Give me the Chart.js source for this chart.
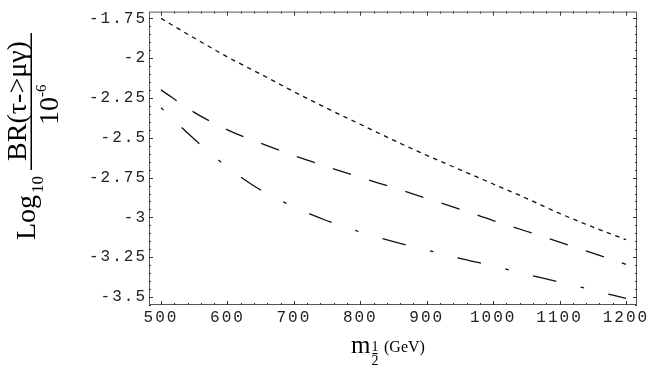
<!DOCTYPE html>
<html>
<head>
<meta charset="utf-8">
<script src="https://cdn.jsdelivr.net/npm/chart.js@4"></script>
<style>
  html, body { margin: 0; padding: 0; background: #fff; }
  canvas { display: block; }
</style>
</head>
<body>
<canvas id="brChart" width="654" height="378"></canvas>
<script>
// ─── Data ───
const massValues = [500, 550, 600, 650, 700, 750, 800, 850, 900, 950, 1000, 1050, 1100, 1150, 1200];
const brDotted   = [-1.75, -1.873, -1.992, -2.10, -2.21, -2.315, -2.415, -2.515, -2.61, -2.70, -2.79, -2.88, -2.975, -3.06, -3.14];
const brDashed   = [-2.199, -2.340, -2.450, -2.534, -2.611, -2.681, -2.749, -2.813, -2.881, -2.948, -3.020, -3.087, -3.155, -3.225, -3.295];
const brDashDot  = [-2.311, -2.508, -2.684, -2.828, -2.934, -3.021, -3.092, -3.152, -3.205, -3.257, -3.305, -3.357, -3.406, -3.457, -3.509];

const xTickValues = [500, 600, 700, 800, 900, 1000, 1100, 1200];
const xTickLabels = ['500', '600', '700', '800', '900', '1000', '1100', '1200'];
const yTickValues = [-3.5, -3.25, -3, -2.75, -2.5, -2.25, -2, -1.75];
const yTickLabels = ['-3.5', '-3.25', '-3', '-2.75', '-2.5', '-2.25', '-2', '-1.75'];

const toPoints = ys => massValues.map((m, i) => ({ x: m, y: ys[i] }));

// ─── Plugins ───
// wide Courier-like spacing for tick labels
const tickSpacing = {
    id: 'tickSpacing',
    beforeDraw(chart) { chart.ctx.letterSpacing = '2px'; }
};

// Mathematica style frame with inward major/minor ticks on all four sides
const frameTicks = {
    id: 'frameTicks',
    afterDatasetsDraw(chart) {
        const { ctx, chartArea: a, scales: { x, y } } = chart;
        ctx.save();
        ctx.strokeStyle = '#555';
        ctx.lineWidth = 1;
        ctx.strokeRect(a.left + 0.5, a.top + 0.5, a.right - a.left - 1, a.bottom - a.top - 1);

        ctx.strokeStyle = '#333';
        ctx.beginPath();
        for (let k = Math.ceil(x.min / 20); k <= Math.floor(x.max / 20); k++) {
            const px = Math.round(x.getPixelForValue(k * 20)) + 0.5;
            const len = k % 5 === 0 ? 4 : 2;
            ctx.moveTo(px, a.bottom); ctx.lineTo(px, a.bottom - len);
            ctx.moveTo(px, a.top); ctx.lineTo(px, a.top + len);
        }
        for (let k = Math.ceil(y.min / 0.05); k <= Math.floor(y.max / 0.05); k++) {
            const py = Math.round(y.getPixelForValue(k * 0.05)) + 0.5;
            const len = Math.abs(k) % 5 === 0 ? 4 : 2;
            ctx.moveTo(a.left, py); ctx.lineTo(a.left + len, py);
            ctx.moveTo(a.right, py); ctx.lineTo(a.right - len, py);
        }
        ctx.stroke();
        ctx.restore();
    }
};

// axis titles with fraction / subscripts
const axisTitles = {
    id: 'axisTitles',
    afterDraw(chart) {
        const ctx = chart.ctx;
        ctx.save();
        ctx.letterSpacing = '0px';
        ctx.fillStyle = '#000';
        ctx.textBaseline = 'alphabetic';

        // x: m_{1/2} (GeV)
        ctx.textAlign = 'left';
        ctx.font = '25px "Liberation Serif"';
        ctx.fillText('m', 351, 353);
        ctx.textAlign = 'center';
        ctx.font = '14px "Liberation Serif"';
        ctx.fillText('1', 375, 351);
        ctx.fillText('2', 375, 365);
        ctx.fillRect(372.5, 353, 5, 1.2);
        ctx.textAlign = 'left';
        ctx.font = '16px "Liberation Serif"';
        ctx.fillText('(GeV)', 384, 352);

        // y: Log10 BR(τ->μγ)/10^-6, rotated; screen (x, y) -> fillText(t, -y, x)
        ctx.rotate(-Math.PI / 2);
        ctx.textAlign = 'left';
        ctx.font = '28px "Liberation Serif"';
        ctx.fillText('Log', -240, 35);
        const logW = ctx.measureText('Log').width;
        ctx.font = '17px "Liberation Serif"';
        ctx.fillText('10', -240 + logW + 2, 43);

        ctx.font = '28px "Liberation Serif"';
        ctx.textAlign = 'center';
        ctx.fillText('BR(τ->μγ)', -101, 26);
        ctx.fillRect(-170, 30.5, 137, 1.5);
        ctx.textAlign = 'left';
        ctx.fillText('10', -125, 58);
        const tenW = ctx.measureText('10').width;
        ctx.font = '15px "Liberation Serif"';
        ctx.fillText('-6', -125 + tenW, 46);
        ctx.restore();
    }
};

// ─── Chart ───
const tickFont = { family: '"Liberation Mono", "DejaVu Sans Mono", monospace', size: 16 };

new Chart(document.getElementById('brChart'), {
    type: 'line',
    data: {
        datasets: [
            { data: toPoints(brDotted), borderDash: [4.5, 4.5] },
            { data: toPoints(brDashed), borderDash: [19, 19] },
            { data: toPoints(brDashDot), borderDash: [3.5, 25, 24, 25] }
        ]
    },
    options: {
        responsive: false,
        animation: false,
        devicePixelRatio: 1,
        layout: { padding: { top: 4, right: 17, left: 0, bottom: 0 } },
        plugins: { legend: { display: false }, tooltip: { enabled: false } },
        elements: {
            point: { radius: 0 },
            line: { borderWidth: 1.3, borderColor: '#111', fill: false, cubicInterpolationMode: 'monotone' }
        },
        scales: {
            x: {
                type: 'linear',
                min: 481.9,
                max: 1216.6,
                afterBuildTicks: s => { s.ticks = xTickValues.map(v => ({ value: v })); },
                afterFit: s => { s.height = 73; },
                grid: { display: false, drawTicks: false },
                border: { display: false },
                ticks: {
                    font: tickFont, color: '#222', padding: 3, maxRotation: 0, autoSkip: false,
                    callback: v => xTickLabels[xTickValues.indexOf(v)]
                }
            },
            y: {
                type: 'linear',
                min: -3.5503,
                max: -1.7071,
                afterBuildTicks: s => { s.ticks = yTickValues.map(v => ({ value: v })); },
                afterFit: s => { s.width = 149; },
                grid: { display: false, drawTicks: false },
                border: { display: false },
                ticks: {
                    font: tickFont, color: '#222', padding: 2, autoSkip: false,
                    callback: v => yTickLabels[yTickValues.indexOf(v)]
                }
            }
        }
    },
    plugins: [tickSpacing, frameTicks, axisTitles]
});
</script>
</body>
</html>
